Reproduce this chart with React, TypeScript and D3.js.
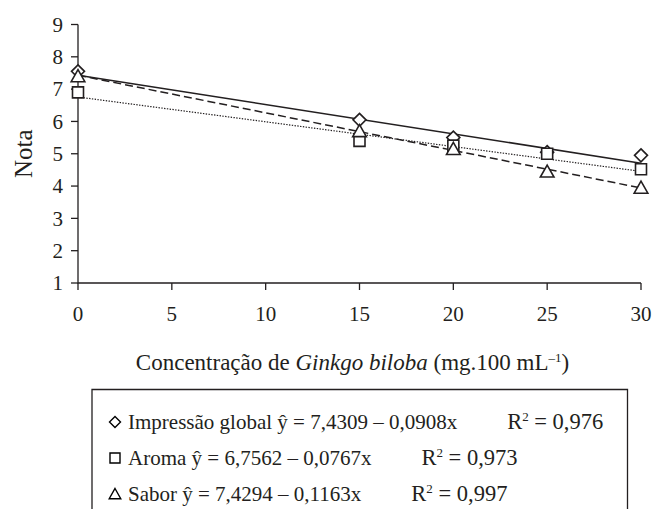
import React from 'react'
import * as d3 from 'd3'

// doses of Ginkgo biloba (mg.100 mL-1)
const doses = [0, 15, 20, 25, 30]
// mean scores
const impressao = [7.55, 6.05, 5.5, 5.05, 4.95]
const aroma = [6.9, 5.4, 5.25, 5.0, 4.52]
const sabor = [7.4, 5.7, 5.15, 4.45, 3.95]

const xTicks = [0, 5, 10, 15, 20, 25, 30]
const yTicks = [1, 2, 3, 4, 5, 6, 7, 8, 9]

// fitted regressions (from the legend)
const names = ['Impressão global', 'Aroma', 'Sabor']
const intercepts = [7.4309, 6.7562, 7.4294]
const slopes = [-0.0908, -0.0767, -0.1163]
const r2 = ['0,976', '0,973', '0,997']

const ink = '#231f20'
const font = "'Liberation Serif', 'Times New Roman', 'DejaVu Serif', serif"

// marker shapes, centred on 0,0
const diamond = (r: number) => `M0,${-r}L${r},0L0,${r}L${-r},0Z`
const square = (r: number) => `M${-r},${-r}H${r}V${r}H${-r}Z`
const triangle = (r: number) => `M0,${-r}L${r * 1.05},${r * 0.85}H${-r * 1.05}Z`

export default function App() {
    var margin = { top: 24.5, right: 13, bottom: 226, left: 78 }
    var W = 654, H = 509
    var width = W - margin.left - margin.right   // 563
    var height = H - margin.top - margin.bottom  // ~258

    var x = d3.scaleLinear().domain([0, 30]).range([0, width])
    var y = d3.scaleLinear().domain([1, 9]).range([height, 0])

    var line = d3.line<number>()
        .x(d => x(d))

    var series = [
        { vals: impressao, shape: diamond, size: 6.5, dash: null, w: 1.6 },
        { vals: aroma, shape: square, size: 5.5, dash: '1.4,1.4', w: 1.2 },
        { vals: sabor, shape: triangle, size: 6.5, dash: '8,4', w: 1.5 },
    ]

    var fmt = (v: number, n: number) => v.toFixed(n).replace('.', ',')

    var legendRows = [429, 465, 501]

    return (
        <svg width={W} height={H} style={{ position: 'absolute', left: 0, top: 0, background: '#fff', fontFamily: font }}
            fill={ink}>
            <g transform={`translate(${margin.left},${margin.top})`}>
                {/* regression lines */}
                {series.map((s, i) => {
                    var l = line.y(d => y(intercepts[i] + slopes[i] * d))
                    return <path key={'l' + i} d={l([0, 30]) || ''} fill="none" stroke={ink}
                        strokeWidth={s.w} strokeDasharray={s.dash || undefined} />
                })}

                {/* axes */}
                <path d={`M0,0V${height}H${width}`} fill="none" stroke={ink} strokeWidth={1.3} />
                {yTicks.map(t => (
                    <g key={'y' + t} transform={`translate(0,${y(t)})`}>
                        <line x1={-7} x2={0} stroke={ink} strokeWidth={1.3} />
                        <text x={-15} dy="0.35em" textAnchor="end" fontSize={21}>{t}</text>
                    </g>
                ))}
                {xTicks.map(t => (
                    <g key={'x' + t} transform={`translate(${x(t)},${height})`}>
                        <line y2={7} stroke={ink} strokeWidth={1.3} />
                        <text y={38} textAnchor="middle" fontSize={21}>{t}</text>
                    </g>
                ))}

                {/* markers */}
                {series.map((s, i) => s.vals.map((v, j) => (
                    <path key={'m' + i + '-' + j} d={s.shape(s.size)}
                        transform={`translate(${x(doses[j])},${y(v)})`}
                        fill="#fff" stroke={ink} strokeWidth={1.6} />
                )))}

                {/* axis titles */}
                <text transform={`translate(${-46},${height / 2}) rotate(-90)`} textAnchor="middle" fontSize={25}>Nota</text>
                <text x={width / 2 - 7} y={height + 87} textAnchor="middle" fontSize={23}>
                    Concentração de <tspan fontStyle="italic">Ginkgo biloba</tspan> (mg.100 mL
                    <tspan fontSize={13} dy={-8}>–1</tspan><tspan dy={8}>)</tspan>
                </text>
            </g>

            {/* legend */}
            <path d={`M92,${H + 2}V389.5H627.5V${H + 2}`} fill="none" stroke={ink} strokeWidth={1.3} />
            {series.map((s, i) => (
                <g key={'lg' + i} transform={`translate(0,${legendRows[i]})`}>
                    <path d={s.shape(i === 1 ? 5 : 5.5)} transform="translate(115,-7)" fill="#fff" stroke="#000" strokeWidth={1.4} />
                    <text x={128} fontSize={21}>
                        {names[i]} ŷ = {fmt(intercepts[i], 4)} – {fmt(-slopes[i], 4)}x
                        <tspan dx={50} fontSize={22.5}>R</tspan>
                        <tspan fontSize={13} dy={-8}>2</tspan>
                        <tspan dy={8} fontSize={22.5}> = {r2[i]}</tspan>
                    </text>
                </g>
            ))}
        </svg>
    )
}
